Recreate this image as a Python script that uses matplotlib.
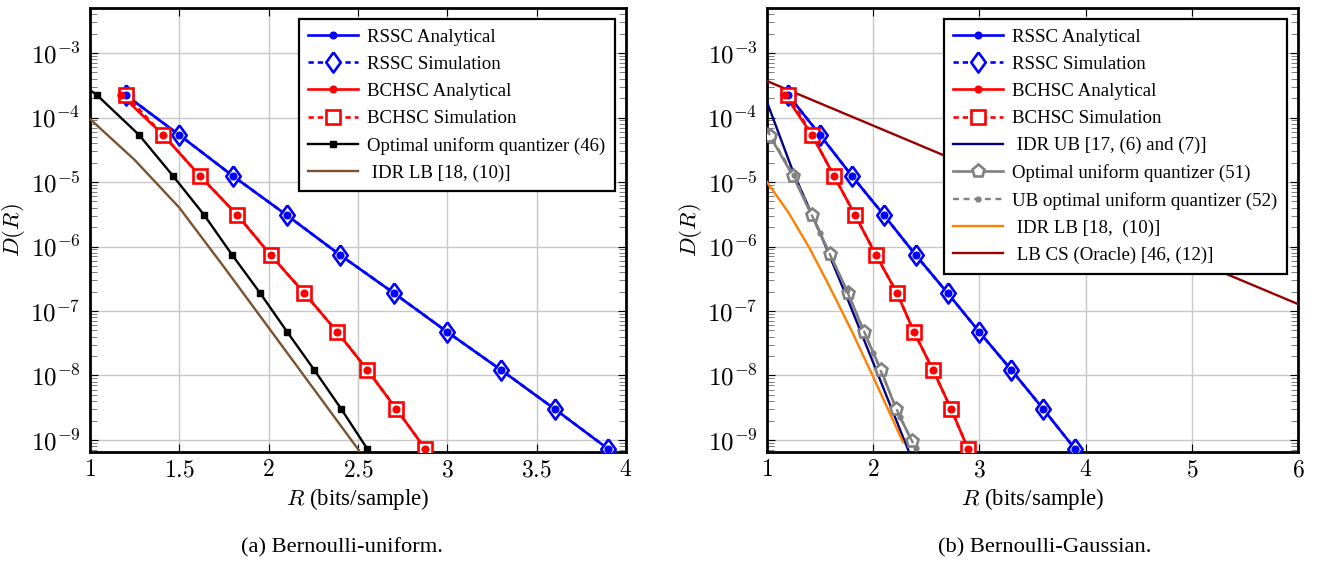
import numpy as np
import matplotlib
matplotlib.use('Agg')
import matplotlib.pyplot as plt
from matplotlib.ticker import FuncFormatter, LogLocator, NullFormatter

plt.rcParams['font.family'] = ['Liberation Serif', 'DejaVu Serif']
plt.rcParams['mathtext.fontset'] = 'cm'

# ---- (a) Bernoulli-uniform ----
R_rssc = [1.2, 1.5, 1.8, 2.1, 2.4, 2.7, 3.0, 3.3, 3.6, 3.9]
D_rssc = [2.23e-4, 5.36e-5, 1.24e-5, 3.08e-6, 7.38e-7, 1.90e-7, 4.72e-8, 1.22e-8, 3.03e-9, 7.25e-10]

R_bchsc_a_an = [1.175, 1.41, 1.616, 1.824, 2.011, 2.199, 2.384, 2.552, 2.714, 2.877]
R_bchsc_a_sim = [1.2, 1.41, 1.616, 1.824, 2.011, 2.199, 2.384, 2.552, 2.714, 2.877]
D_bchsc_a = [2.23e-4, 5.36e-5, 1.24e-5, 3.08e-6, 7.38e-7, 1.90e-7, 4.72e-8, 1.22e-8, 3.03e-9, 7.25e-10]

R_ouq_a = [1.0, 1.039, 1.275, 1.465, 1.639, 1.796, 1.952, 2.104, 2.255, 2.406, 2.552]
D_ouq_a = [2.67e-4, 2.23e-4, 5.36e-5, 1.24e-5, 3.08e-6, 7.38e-7, 1.90e-7, 4.72e-8, 1.22e-8, 3.03e-9, 7.25e-10]

R_idrlb_a = [1.0, 1.25, 1.5, 1.75, 2.0, 2.25, 2.5, 2.55]
D_idrlb_a = [9.5e-5, 2.2e-5, 4.0e-6, 4.8e-7, 5.5e-8, 6.3e-9, 7.2e-10, 4.5e-10]

# ---- (b) Bernoulli-Gaussian ----
R_bchsc_b_an = [1.17, 1.424, 1.631, 1.829, 2.026, 2.224, 2.384, 2.563, 2.733, 2.893]
R_bchsc_b_sim = [1.2, 1.424, 1.631, 1.829, 2.026, 2.224, 2.384, 2.563, 2.733, 2.893]
D_bchsc_b = [2.23e-4, 5.36e-5, 1.24e-5, 3.08e-6, 7.38e-7, 1.90e-7, 4.72e-8, 1.22e-8, 3.03e-9, 7.25e-10]

R_idrub_b = [1.0, 1.25, 1.5, 1.75, 2.0, 2.25, 2.5]
D_idrub_b = [1.74e-4, 1.38e-5, 1.62e-6, 1.66e-7, 1.58e-8, 1.48e-9, 1.4e-10]

R_ouq_b = [1.028, 1.245, 1.42, 1.593, 1.763, 1.913, 2.073, 2.215, 2.365]
D_ouq_b = [5.16e-5, 1.24e-5, 3.08e-6, 7.6e-7, 1.90e-7, 4.72e-8, 1.22e-8, 3.03e-9, 9.6e-10]

R_ubouq_b = [1.0, 1.25, 1.5, 1.75, 2.0, 2.25, 2.4]
D_ubouq_b = [6.4e-5, 1.3e-5, 1.6e-6, 2.1e-7, 2.25e-8, 2.3e-9, 7.4e-10]

R_idrlb_b = [1.0, 1.2, 1.4, 1.6, 1.8, 2.0, 2.2, 2.28]
D_idrlb_b = [1.0e-5, 3.4e-6, 9.5e-7, 2.2e-7, 4.8e-8, 9.5e-9, 1.8e-9, 9.3e-10]

R_lbcs_b = [1, 2, 3, 4, 5, 6]
D_lbcs_b = [3.68e-4, 7.5e-5, 1.52e-5, 3.1e-6, 6.3e-7, 1.28e-7]

y_ticks = [1e-9, 1e-8, 1e-7, 1e-6, 1e-5, 1e-4, 1e-3]

DIAMOND = [(0, 1), (0.72, 0), (0, -1), (-0.72, 0), (0, 1)]
LW = 1.9


def style_axes(ax, xticks):
    ax.set_yscale('log')
    ax.set_xlim(xticks[0], xticks[-1])
    ax.set_ylim(6.5e-10, 5e-3)
    ax.set_xticks(xticks)
    ax.set_yticks(y_ticks)
    ax.xaxis.set_major_formatter(FuncFormatter(lambda v, p: r'$%g$' % v))
    ax.yaxis.set_minor_locator(LogLocator(base=10, subs=np.arange(2, 10), numticks=20))
    ax.yaxis.set_major_formatter(FuncFormatter(lambda v, p: r'$10^{%d}$' % round(np.log10(v))))
    ax.yaxis.set_minor_formatter(NullFormatter())
    ax.grid(True, which='major', color='#c8c8c8', lw=1.0)
    ax.tick_params(which='both', direction='in', left=True, right=True,
                   top=True, bottom=True)
    ax.tick_params(axis='y', labelsize=18, pad=7)
    ax.tick_params(axis='x', labelsize=17, pad=6)
    ax.tick_params(which='major', length=6, width=0.8)
    ax.tick_params(which='minor', length=5, width=0.6, color='#666666')
    for s in ax.spines.values():
        s.set_linewidth(2.0)
    ax.set_xlabel(r'$R$ (bits/sample)', fontsize=16.5, labelpad=3)
    ax.set_ylabel(r'$D(R)$', fontsize=16.5, labelpad=2)


def plot_scheme(ax, R_an, R_sim, D, color, sim_marker, sim_ms, name):
    ax.plot(R_an, D, '-', color=color, lw=LW, marker='o', ms=4.8,
            label=name + ' Analytical', zorder=3)
    ax.plot(R_sim, D, '--', color=color, lw=LW, dashes=(2, 1.5), marker=sim_marker,
            ms=sim_ms, mfc='white', mec=color, mew=1.9,
            label=name + ' Simulation', zorder=4)
    ax.plot(R_an, D, 'o', color=color, ms=4.8, zorder=5)


fig = plt.figure(figsize=(13.17, 5.64), dpi=100)
ax1 = fig.add_axes([90 / 1317, 1 - 452 / 564, 536 / 1317, 444 / 564])
ax2 = fig.add_axes([767 / 1317, 1 - 452 / 564, 531 / 1317, 444 / 564])

# (a)
plot_scheme(ax1, R_rssc, R_rssc, D_rssc, 'blue', DIAMOND, 14.5, 'RSSC')
plot_scheme(ax1, R_bchsc_a_an, R_bchsc_a_sim, D_bchsc_a, 'red', 's', 10, 'BCHSC')
ax1.plot(R_ouq_a, D_ouq_a, '-', color='black', lw=1.7, marker='s', ms=5,
         markevery=list(range(1, len(R_ouq_a))), label='Optimal uniform quantizer (46)', zorder=3)
ax1.plot(R_idrlb_a, D_idrlb_a, '-', color='#7a5230', lw=1.7, label=' IDR LB [18, (10)]', zorder=3)
style_axes(ax1, [1, 1.5, 2, 2.5, 3, 3.5, 4])

# (b)
plot_scheme(ax2, R_rssc, R_rssc, D_rssc, 'blue', DIAMOND, 14.5, 'RSSC')
plot_scheme(ax2, R_bchsc_b_an, R_bchsc_b_sim, D_bchsc_b, 'red', 's', 10, 'BCHSC')
ax2.plot(R_idrub_b, D_idrub_b, '-', color='#000080', lw=1.7,
         label=' IDR UB [17, (6) and (7)]', zorder=3)
ax2.plot(R_ouq_b, D_ouq_b, '-', color='gray', lw=LW, marker='p', ms=9.5, mfc='white',
         mec='gray', mew=1.9, label='Optimal uniform quantizer (51)', zorder=3)
ax2.plot(R_ubouq_b, D_ubouq_b, '--', color='gray', lw=1.7, dashes=(2.5, 2), marker='o', ms=3.5,
         label='UB optimal uniform quantizer (52)', zorder=3)
ax2.plot(R_idrlb_b, D_idrlb_b, '-', color='#ff8000', lw=1.7, label=' IDR LB [18,  (10)]', zorder=3)
ax2.plot(R_lbcs_b, D_lbcs_b, '-', color='#990000', lw=1.7, label=' LB CS (Oracle) [46, (12)]', zorder=3)
style_axes(ax2, [1, 2, 3, 4, 5, 6])

for ax in (ax1, ax2):
    leg = ax.legend(loc='upper right', fontsize=13.6, numpoints=1, handlelength=2.6,
                    handletextpad=0.5, labelspacing=0.52, borderaxespad=0.6,
                    fancybox=False, framealpha=1, edgecolor='black', borderpad=0.5)
    leg.get_frame().set_linewidth(1.6)
    leg.set_zorder(10)

fig.text(342 / 1317, 1 - 548 / 564, '(a) Bernoulli-uniform.', fontsize=16.2, ha='center', va='center')
fig.text(1045 / 1317, 1 - 548 / 564, '(b) Bernoulli-Gaussian.', fontsize=16.2, ha='center', va='center')

fig.savefig('out.png', dpi=100)
